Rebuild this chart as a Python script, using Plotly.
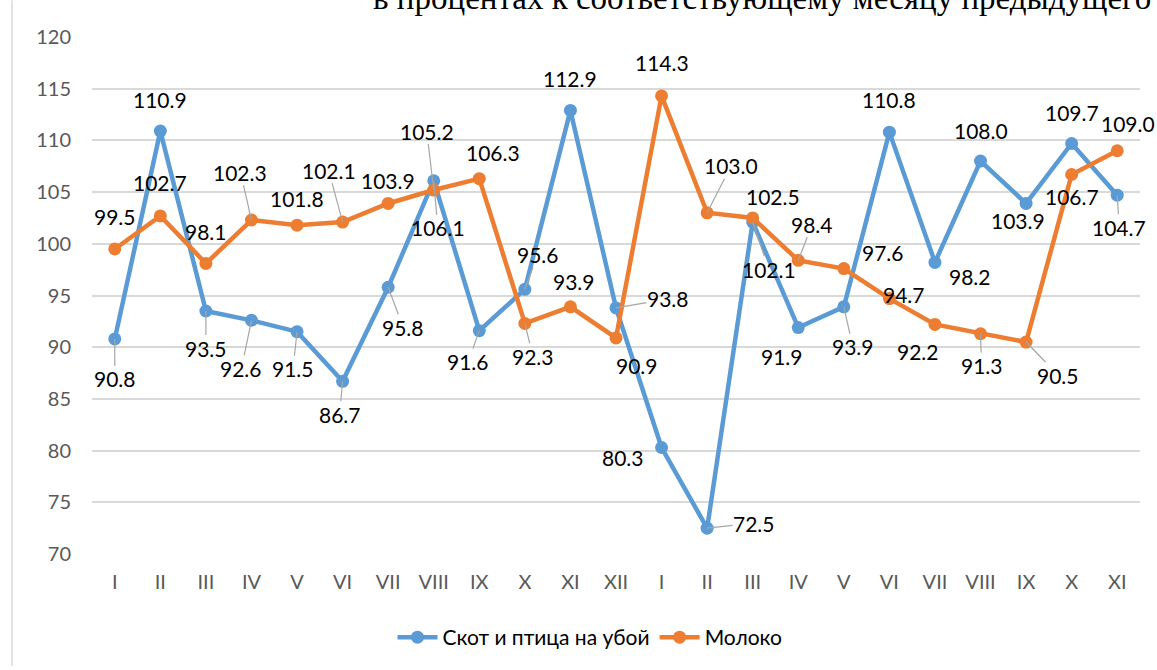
import plotly.graph_objects as go

months = ["I", "II", "III", "IV", "V", "VI", "VII", "VIII", "IX", "X", "XI", "XII",
          "I", "II", "III", "IV", "V", "VI", "VII", "VIII", "IX", "X", "XI"]

livestock = [90.8, 110.9, 93.5, 92.6, 91.5, 86.7, 95.8, 106.1, 91.6, 95.6, 112.9, 93.8,
             80.3, 72.5, 102.1, 91.9, 93.9, 110.8, 98.2, 108.0, 103.9, 109.7, 104.7]

milk = [99.5, 102.7, 98.1, 102.3, 101.8, 102.1, 103.9, 105.2, 106.3, 92.3, 93.9, 90.9,
        114.3, 103.0, 102.5, 98.4, 97.6, 94.7, 92.2, 91.3, 90.5, 106.7, 109.0]

name_livestock = "Скот и птица на убой"
name_milk = "Молоко"
subtitle = "в процентах к соответствующему месяцу предыдущего"

# label placement (pixel offsets from point) and leader-line flags
liv_dx = [0, 0, 0, -10, -4, -3, 15, 4, -11, 13, 0, 52, -39, 47, 16, -16, 9, 0, 35, 0, -8, 0, 2]
liv_dy = [40, -32, 37, 48, 37, 33, 40, 47, 31, -35, -32, -9, 10, -5, 47, 29, 40, -33, 14, -31, 17, -31, 32]
liv_ld = [1, 0, 1, 1, 1, 1, 1, 1, 1, 1, 0, 1, 0, 1, 1, 0, 1, 0, 0, 0, 0, 0, 1]

milk_dx = [0, 0, 0, -11, 0, -14, 0, -7, 14, 8, 4, 21, 0, 24, 20, 14, 39, 15, -17, 1, 32, 0, 11]
milk_dy = [-32, -33, -32, -48, -27, -52, -23, -59, -26, 33, -25, 28, -33, -47, -21, -36, -16, -4, 27, 32, 33, 22, -27]
milk_ld = [0, 0, 0, 1, 0, 1, 0, 1, 0, 1, 0, 0, 0, 1, 0, 1, 0, 0, 0, 1, 1, 0, 0]

BLUE = "#5B9BD5"
ORANGE = "#ED7D31"
FONT = "Lato, 'Open Sans', sans-serif"

xs = list(range(len(months)))

fig = go.Figure()
fig.add_trace(go.Scatter(x=xs, y=livestock, name=name_livestock, mode="lines+markers",
                         line=dict(color=BLUE, width=4.5), marker=dict(size=13, color=BLUE),
                         cliponaxis=False))
fig.add_trace(go.Scatter(x=xs, y=milk, name=name_milk, mode="lines+markers",
                         line=dict(color=ORANGE, width=4.5), marker=dict(size=13, color=ORANGE),
                         cliponaxis=False))

annotations = []
for vals, dxs, dys, lds in [(livestock, liv_dx, liv_dy, liv_ld), (milk, milk_dx, milk_dy, milk_ld)]:
    for x, v, dx, dy, ld in zip(xs, vals, dxs, dys, lds):
        annotations.append(dict(
            x=x, y=v, xref="x", yref="y", text=f"{v:.1f}",
            showarrow=True, ax=dx, ay=dy, arrowhead=0, arrowwidth=1.2,
            arrowcolor="#a6a6a6" if ld else "rgba(0,0,0,0)", standoff=0,
            font=dict(family=FONT, size=21, color="#000000"), borderpad=0))

plot_l, plot_r, plot_t, plot_b = 92, 17, 37, 113
W, H = 1157, 670
pw, ph = W - plot_l - plot_r, H - plot_t - plot_b

annotations.append(dict(
    x=(1153 - plot_l) / pw, xanchor="right", xref="paper",
    y=1 + (plot_t - 18) / ph, yanchor="bottom", yref="paper",
    text=subtitle, showarrow=False,
    font=dict(family="'Liberation Serif', 'Times New Roman', serif", size=33, color="#000000")))

fig.update_layout(annotations=annotations)

fig.add_shape(type="line", xref="paper", yref="paper",
              x0=(12 - plot_l) / pw, x1=(12 - plot_l) / pw,
              y0=-(plot_b) / ph, y1=1 + plot_t / ph,
              line=dict(color="#d9d9d9", width=1.5))

fig.update_layout(
    width=W, height=H,
    margin=dict(l=plot_l, r=plot_r, t=plot_t, b=plot_b, pad=0),
    paper_bgcolor="white", plot_bgcolor="white",
    font=dict(family=FONT),
    xaxis=dict(range=[-0.5, len(months) - 0.5], tickvals=xs, ticktext=months,
               showgrid=False, zeroline=False, showline=False, ticks="",
               tickfont=dict(size=20, color="#595959"), ticklabelstandoff=14),
    yaxis=dict(range=[70, 120], dtick=5, showgrid=True, gridcolor="#d9d9d9", gridwidth=1.5,
               zeroline=False, showline=False, ticks="",
               tickfont=dict(size=20, color="#595959"), ticklabelstandoff=20),
    legend=dict(orientation="h", x=(590 - plot_l) / pw, xanchor="center",
                y=-(641 - (H - plot_b)) / ph, yanchor="middle",
                font=dict(size=21, color="#000000"), itemwidth=40,
                bgcolor="rgba(0,0,0,0)"),
    showlegend=True,
)

fig.write_html("out.html", config={"displayModeBar": False},
               post_script="document.body.style.margin='0';document.body.style.padding='0';")
